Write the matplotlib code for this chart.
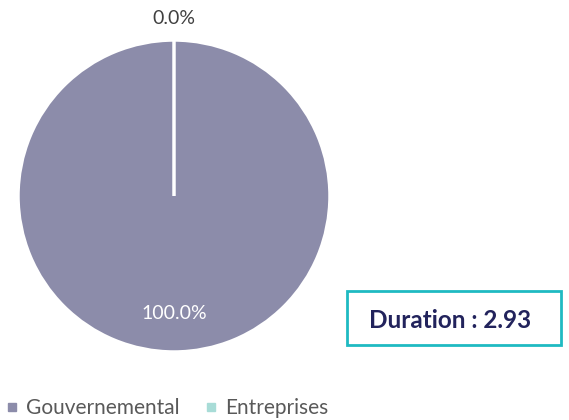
import matplotlib
matplotlib.use("Agg")
import matplotlib.pyplot as plt
from matplotlib.patches import Rectangle
from matplotlib.lines import Line2D
import numpy as np

categories = ["Gouvernemental", "Entreprises"]
values = [100.0, 0.0]
colors = ["#8C8CAA", "#A8DCD7"]
duration_label = "Duration : 2.93"

plt.rcParams['font.family'] = ['Lato', 'DejaVu Sans']

fig = plt.figure(figsize=(5.69, 4.20), dpi=100)
ax = fig.add_axes([18/569, (420-352)/420, 312/569, 312/420])

total = sum(values)
wedges, texts = ax.pie(values, colors=colors, startangle=90, counterclock=False,
                       wedgeprops=dict(edgecolor='white', linewidth=2.5),
                       labels=None)
ax.set_xlim(-1, 1)
ax.set_ylim(-1, 1)
ax.set_aspect('equal')
ax.axis('off')

# percentage labels
theta = 90.0
for v, w in zip(values, wedges):
    frac = v / total
    mid = theta - frac * 360 / 2
    theta -= frac * 360
    if frac >= 0.5:
        r, col = 0.755, 'white'
    else:
        r, col = 1.14, '#404040'
    x = r * np.cos(np.radians(mid))
    y = r * np.sin(np.radians(mid))
    ax.text(x, y, f"{frac*100:.1f}%", ha='center', va='center', fontsize=14,
            color=col, clip_on=False)

# Duration box
fig.patches.append(Rectangle((347/569, (420-345)/420), 214/569, 54/420,
                             transform=fig.transFigure, facecolor='white',
                             edgecolor='#1FBAC2', linewidth=2))
fig.text(450/569, (420-320)/420, duration_label, ha='center', va='center',
         fontsize=17.5, fontweight='bold', color='#22235C')

# Legend
handles = [Line2D([0], [0], marker='s', linestyle='none', markersize=6,
                  markerfacecolor=c, markeredgecolor=c) for c in colors]
leg = fig.legend(handles, categories, loc='center left',
                 bbox_to_anchor=(-0.011, (420-408)/420), ncol=2, frameon=False,
                 fontsize=15, labelcolor='#595959', handlelength=0.55,
                 handletextpad=0.4, columnspacing=1.25, borderaxespad=0.2)

fig.savefig("out.png", dpi=100)
